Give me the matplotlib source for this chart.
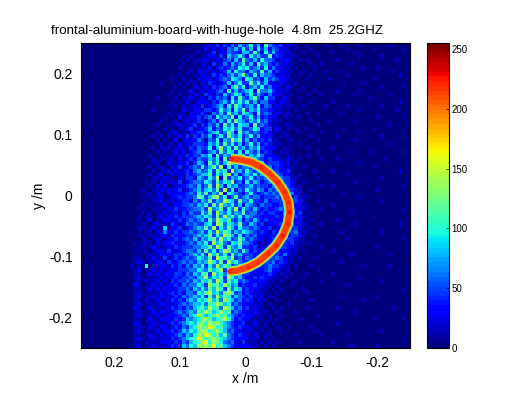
import numpy as np
import matplotlib
matplotlib.use('Agg')
import matplotlib.pyplot as plt

plt.rcParams['font.family'] = ['Liberation Sans', 'DejaVu Sans']

title_text = 'frontal-aluminium-board-with-huge-hole  4.8m  25.2GHZ'
x_ticks = [0.2, 0.1, 0, -0.1, -0.2]
x_labels = ['0.2', '0.1', '0', '-0.1', '-0.2']
y_ticks = [0.2, 0.1, 0, -0.1, -0.2]
y_labels = ['0.2', '0.1', '0', '-0.1', '-0.2']
bar_ticks = [0, 50, 100, 150, 200, 250]

# bright arc
arc_x = [0.0217, 0.0065, -0.0087, -0.0239, -0.0365, -0.0491, -0.0593, -0.0653, -0.0669,
         -0.0643, -0.0567, -0.0467, -0.0339, -0.0187, -0.0035, 0.0117, 0.0243]
arc_y = [0.060, 0.0585, 0.0546, 0.0464, 0.0356, 0.0218, 0.0054, -0.0110, -0.0274,
         -0.0464, -0.0656, -0.0820, -0.0956, -0.1093, -0.1175, -0.1230, -0.1246]
arc_val = [222, 212, 215, 220, 218, 222, 220, 222, 224, 222, 224, 220, 222, 218, 222, 215, 220]

# intensity read by eye: each digit is one cell, looked up in heat_levels
heat_levels = [3, 12, 28, 45, 62, 80, 98, 118, 140, 165]
heat_rows = [
    '00000000000 00000000000 00000000101 12131324253 46352743231 21100100001 00010000100 00000100000',
    '00000000000 00000000000 00000010010 21212143536 35263524312 10100010000 00000100000 01000000010',
    '00000000000 00000000000 00000000110 11312243325 53742635221 21001001000 01000001000 00000000000',
    '00000000000 00000000000 00000101001 12213153464 26453372321 11100000100 00000000100 00010000000',
    '00000000000 00000000000 00000010111 21121342537 43526443122 21010100000 00100000000 00000001000',
    '00000000000 00000000000 00000100102 11312425346 35274532312 11000010010 00000010000 00000000000',
    '00000000000 00000000000 00001001011 12123234365 63453624221 20100001000 00000000010 00100000000',
    '00000000000 00000000000 00000011021 21212352644 25437352312 11001000001 00010000000 00000010000',
    '00000000000 00000000000 00001010112 11323245357 43625443121 20010010000 00000100000 00000000100',
    '00000000000 00000000000 00100101021 22123436542 65342534322 11000100000 10000000000 01000000000',
    '00000000000 00000000001 00001011102 13212352463 37463522121 10100000100 00001000010 00000000000',
    '00000000000 00000000000 00010100211 21323425746 24536342211 21001000000 00000000000 00010000010',
    '00000000000 00000000000 00101012012 12234263534 56274453121 10010001000 00100000100 00000000000',
    '00000000000 00000000000 01001011211 32132534652 46353242211 11000100010 00000001000 00000100000',
    '00000000000 00000000010 00010112112 13243426374 35742533112 10010000000 00000000000 10000000000',
    '00000000000 00000000000 00101020122 21324537464 63524422121 10000010000 01000000000 00000000100',
    '00000000000 00000000000 01010111213 12345263753 45362431211 11001000001 00000100000 00010000000',
    '00000000000 00000000100 00100211221 33236452647 35463322110 10100000000 00000000100 00000001000',
    '00000000000 00000000000 01011102123 21435374536 54273431211 20000100100 00010000000 00000000000',
    '00000000000 00000000000 10102112231 34264547263 46352322101 01010000000 00000000000 00100000010',
    '00000000000 00000000001 00110121232 13425363754 35463421110 10000010000 10000001000 00000000000',
    '00000000000 00000000010 01012112313 24352746365 52734321101 11000000100 00000000000 00000100000',
    '00000000000 00000000000 10101123122 35243657463 34652331210 10100100000 00001000000 01000000000',
    '00000000000 00000000010 01120112233 24563475274 53432321101 00010000010 00000000100 00000000000',
    '00000000000 00000000101 01012131324 35246375463 46352221011 10000010000 00100000000 00010000010',
    '00000000000 00000000010 10120122243 14362548573 52423231100 11000000100 00000001000 00000000000',
    '00000000000 00000000001 01102121333 25463746352 46352321110 10010000000 00000000000 00000100000',
    '00000000000 00000000101 11012113243 36258463745 35463222101 01000100000 01000000000 00000000000',
    '00000000000 00000000010 10121212342 24537465362 64352321011 10000000100 00000010000 10000000010',
    '00000000000 00000001001 01112132335 46273548465 35464222110 11000100000 00000000000 00000000000',
    '00000000000 00000000101 11202123243 35462738354 63543232211 21010000010 00100000000 00001000000',
    '00000000000 00000000110 02112231354 27463586342 54625233321 20100000000 00000000100 00000000000',
    '00000000000 00000001011 10213123436 35748263534 43653242321 21001000000 00000000000 01000000000',
    '00000000000 00000000101 12021232453 46375628453 64354343322 31000001000 01000000000 00000000100',
    '00000000000 00000001012 01212132345 57364783524 54635343432 21010000000 00000100000 00000000000',
    '00000000000 00000000111 21102133254 36482735463 46343434543 31100000100 00000000000 00010000000',
    '00000000000 00000010102 11213123443 65374658342 63542343243 32101000000 00000001000 00000000000',
    '00000000000 00000001021 20112234352 47385264533 45343324334 32110000010 01000000000 00000000010',
    '00000000000 00000100112 12123123453 56473836243 64354243432 33210010000 00000000000 00100000000',
    '00000000000 00000011021 12122234364 73548265432 46323434343 24211000000 00001000000 00000000000',
    '00000000000 00000101112 01223233476 35784624734 53442333423 32311100000 00000000100 00000000000',
    '00000000000 00000010112 11212332435 47354865374 46332423334 32321000100 00000000000 00010000000',
    '00000000000 00000101011 21122334354 63748546352 54324332234 33221100000 01000000000 00000000000',
    '00000000000 00001010111 12132233445 38457364836 43532322343 24221100010 00000000000 00000000010',
    '00000000000 00000101011 21221324336 47385463547 34423233224 32231010000 00000010000 00000000000',
    '00000000000 00001011012 12132333454 65374857463 54332222323 23321100000 00000000000 01000000000',
    '00000000000 00001012011 22123234345 37486574352 43532322224 33221010000 00100000000 00000000000',
    '00000000000 00000110121 11321243433 56387465473 35423122233 24221100010 00000001000 00000000100',
    '00000000000 00001101211 51223123454 74836475364 43432231224 33321010000 00000000000 00000000000',
    '00000000000 00001011021 42132334345 36485763546 54323213223 23411100000 00010000000 00010000000',
    '00000000000 00001101112 21322233454 57364875362 43422122333 23321001000 00000000000 00000000000',
    '00000000000 00000110121 12132343535 46748563475 34322123232 33211000000 00000100000 00000000010',
    '00000000000 00010111021 22321234354 63857436574 43211123333 23111010000 00000000000 00000000000',
    '00000000000 00001101211 12132333445 57486375463 32312134333 22110000010 00000000000 00100000000',
    '00000000000 00010110122 13212344353 74635874536 42322233322 21101000000 01000000000 00000000000',
    '00000000000 00001011112 22133234546 38574637453 33212333324 21100000000 00000010000 00000100000',
    '00000000000 00011011211 31232343465 47386758342 43222333432 11010001000 00000000000 00000000000',
    '00000000000 00012101122 13223434354 58647385643 22314334232 11000000000 00010000000 00000000000',
    '00000000000 00101160112 21323243546 36485763452 32212343321 10100010000 00000000010 00000100000',
    '00000000000 00012011212 12223334465 47568374635 23222342211 10000000100 00000000000 00000000000',
    '00000000000 00011012121 22133243546 73856475342 32212232111 01000100000 01000000000 00000000000',
    '00000000000 00012011112 12232334355 84657386453 22323221101 10001000000 00000000100 00000000000',
    '00000000000 00011021121 21323343546 57486375634 32222211010 00100000010 00000000000 00010000000',
    '00000000000 00021011212 12232434465 38675864523 22312110100 01000000000 00000100000 00000000000',
    '00000000000 00011012121 22123343546 47586374652 32221101010 00001000000 00000000000 00000000010',
    '00000000000 00011101112 12323244365 78564786342 32121100100 00000100000 00000000000 00000000000',
    '00000000000 00012011212 21232434546 37485763543 23212011000 00100000000 00010000000 00100000000',
    '00000000000 00011021121 12323245465 68574865342 32121100100 00000010000 00000000010 00000000000',
    '00000000000 00012011112 21223434556 47687563432 22111010000 10000000000 00000000000 00000000000',
    '00000000000 00021012111 12323243567 58674875342 31211001010 00000100000 00100000000 00000010000',
    '00000000000 00011101212 21234345476 87568673432 21211100100 00100000000 00000001000 00000000000',
    '00000000000 00012011121 12223435687 56786754323 22111010010 00000000100 00000000000 00000000000',
    '00000000000 00011012112 22132354567 87567864232 21101010100 00010000000 00000000000 01000000010',
    '00000000000 00021011211 12323456578 68786543223 11210101000 00000000000 00100000000 00000000000',
    '00000000000 00011102112 21232435687 79867543232 21110100100 10000010000 00000000000 00000000000',
    '00000000000 00012011121 22323546578 86786534221 21101010010 00000001000 00000000000 00010000000',
    '00000000000 00011012112 12234354687 98675743232 11210110000 00100000010 00000100000 00000000000',
    '00000000000 00012101211 21323456798 67876543222 21110101000 00000000000 00000000000 00000000010',
    '00000000000 00011021112 22132435678 96876434213 11101010100 00010000000 01000000000 00000000000',
    '00000000000 00012011211 12323546587 87967543222 21110101000 00000000000 00000010000 00100000000',
]

heat = np.array([[heat_levels[int(ch)] for ch in row.replace(' ', '')] for row in heat_rows])

fig = plt.figure(figsize=(5.06, 3.93), dpi=100)
ax = fig.add_axes([81 / 506, 45 / 393, 329 / 506, 305 / 393])
cax = fig.add_axes([427 / 506, 45 / 393, 22 / 506, 305 / 393])

cmap = plt.get_cmap('jet', 64)
norm = plt.Normalize(0, 255)
im = ax.imshow(heat, cmap=cmap, norm=norm, extent=[0.25, -0.25, -0.25, 0.25],
               aspect='auto', interpolation='nearest')

# glow round the arc, then the arc itself
ax.plot(arc_x, arc_y, color=cmap(norm(110)), lw=7.5, solid_capstyle='butt', solid_joinstyle='round')
ax.plot(arc_x, arc_y, color=cmap(norm(180)), lw=6.2, solid_capstyle='butt', solid_joinstyle='round')
ax.plot(arc_x, arc_y, color=cmap(norm(212)), lw=4.4, solid_capstyle='butt', solid_joinstyle='round')
ax.scatter(arc_x, arc_y, c=arc_val, cmap=cmap, norm=norm, s=11, marker='o', linewidths=0, zorder=3)

ax.set_xlim(0.25, -0.25)
ax.set_ylim(-0.25, 0.25)
ax.set_xticks(x_ticks)
ax.set_xticklabels(x_labels)
ax.set_yticks(y_ticks)
ax.set_yticklabels(y_labels)
ax.tick_params(direction='in', top=True, right=True, length=2.5, width=0.5, labelsize=10, pad=6)
ax.set_xlabel('x /m', fontsize=10, labelpad=1.5)
ax.set_ylabel('y /m', fontsize=10, labelpad=2)
fig.text(217 / 506, 1 - 31 / 393, title_text, fontsize=9.65, ha='center', va='center')

cb = fig.colorbar(im, cax=cax, ticks=bar_ticks)
cb.ax.tick_params(direction='in', length=2, width=0.5, labelsize=7, pad=2)
cb.ax.set_ylim(0, 255)

fig.savefig('out.png', dpi=100)
